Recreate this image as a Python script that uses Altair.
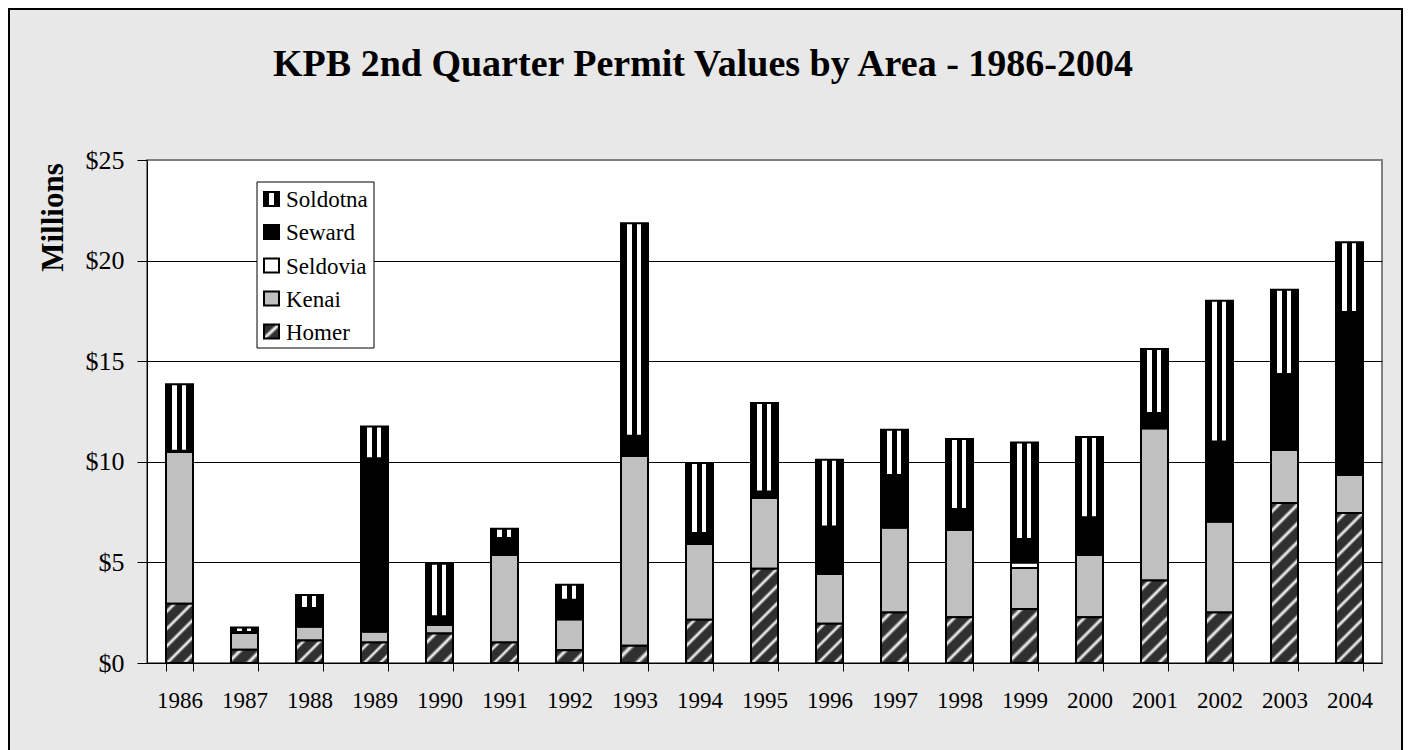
import math
import altair as alt
import pandas as pd

# ---------------- data (millions of dollars) ----------------
years = [str(y) for y in range(1986, 2005)]
areas = ["Homer", "Kenai", "Seldovia", "Seward", "Soldotna"]  # stacking order, bottom -> top
legend_order = ["Soldotna", "Seward", "Seldovia", "Kenai", "Homer"]

homer = [2.95, 0.66, 1.12, 1.02, 1.46, 1.02, 0.63, 0.86, 2.15, 4.68,
         1.95, 2.51, 2.28, 2.68, 2.28, 4.10, 2.51, 7.95, 7.45]
kenai = [7.55, 0.83, 0.70, 0.55, 0.44, 4.36, 1.55, 9.44, 3.76, 3.52,
         2.49, 4.23, 4.34, 2.04, 3.10, 7.57, 4.52, 2.65, 1.90]
seldovia = [0.00, 0.00, 0.00, 0.00, 0.00, 0.00, 0.00, 0.00, 0.00, 0.00,
            0.00, 0.00, 0.00, 0.28, 0.00, 0.00, 0.00, 0.00, 0.05]
seward = [0.05, 0.05, 0.91, 8.61, 0.42, 0.83, 0.96, 0.99, 0.55, 0.32,
          2.35, 2.61, 1.03, 1.16, 1.87, 0.75, 3.98, 3.77, 8.04]
soldotna = [3.30, 0.23, 0.65, 1.57, 2.61, 0.46, 0.75, 10.57, 3.48, 4.40,
            3.31, 2.24, 3.48, 4.80, 3.98, 3.19, 6.99, 4.18, 3.47]

y_ticks = [0, 5, 10, 15, 20, 25]
TITLE = "KPB 2nd Quarter Permit Values by Area - 1986-2004"
Y_TITLE = "Millions"

series = {"Homer": homer, "Kenai": kenai, "Seldovia": seldovia,
          "Seward": seward, "Soldotna": soldotna}
rows = []
for i, yr in enumerate(years):
    for k, a in enumerate(areas):
        rows.append({"year": yr, "area": a, "order": k, "value": series[a][i]})
df = pd.DataFrame(rows)

# ---------------- layout ----------------
FONT = "Liberation Serif"
W, H = 1235, 503
PAD = {"left": 139, "top": 152, "right": 21, "bottom": 87}
STEP = W / len(years)
BAND = 27
P_IN = 1 - BAND / STEP
YMAX = 25
PX_PER_UNIT = H / YMAX

DARK = "#303030"
GRAY = "#c0c0c0"

xscale = alt.Scale(domain=years, paddingInner=P_IN, paddingOuter=P_IN / 2)
yscale = alt.Scale(domain=[0, YMAX], nice=False, zero=True)

xaxis = alt.Axis(title=None, labelAngle=0, labelFont=FONT, labelFontSize=23,
                 labelColor="black", tickBand="extent", tickSize=8, tickColor="black",
                 domainColor="black", labelPadding=18, labelBaseline="top", grid=False)
yaxis = alt.Axis(title=Y_TITLE, values=y_ticks, labelExpr="'$' + datum.value",
                 labelFont=FONT, labelFontSize=26, labelColor="black", tickSize=10,
                 tickColor="black", labelPadding=13, grid=True,
                 gridColor=alt.condition(f"datum.value == {YMAX}",
                                         alt.value("#808080"), alt.value("black")),
                 gridWidth=1, domainColor="black", titleFont=FONT, titleFontSize=31,
                 titleFontWeight="bold", titleColor="black", titleAngle=270,
                 titleX=-85, titleY=57, titleAlign="center", titleBaseline="alphabetic")


def vstripes(stops_spec):
    stops = []
    for off, col in stops_spec:
        stops.append({"offset": off, "color": col})
    return {"gradient": "linear", "x1": 0, "y1": 0, "x2": 1, "y2": 0, "stops": stops}


SOLDOTNA_FILL = vstripes([(0, "black"), (0.23, "black"), (0.23, "white"), (0.39, "white"),
                          (0.39, "black"), (0.59, "black"), (0.59, "white"), (0.75, "white"),
                          (0.75, "black"), (1, "black")])


def diag_fill(w, h, period=13.0):
    """Dark fill with white '/' stripes at 45 degrees in pixel space."""
    k = (w + h) / (w * w + h * h)
    n = max(1, round((w + h) / math.sqrt(2) / period))
    stops = []
    for i in range(n):
        b = i / n
        stops += [{"offset": b, "color": DARK},
                  {"offset": b + 0.30 / n, "color": DARK},
                  {"offset": b + 0.50 / n, "color": "white"},
                  {"offset": b + 0.70 / n, "color": DARK}]
    stops.append({"offset": 1, "color": DARK})
    return {"gradient": "linear", "x1": 0, "y1": 0, "x2": k * w, "y2": k * h, "stops": stops}


base = alt.Chart(df).transform_stack(
    stack="value", groupby=["year"], as_=["v0", "v1"],
    sort=[alt.SortField("order", order="ascending")])


def seg(filt, fill):
    return base.transform_filter(filt).mark_bar(
        fill=fill, stroke="black", strokeWidth=2).encode(
        x=alt.X("year:N", scale=xscale, axis=xaxis),
        y=alt.Y("v0:Q", scale=yscale, axis=yaxis),
        y2="v1:Q")


layers = []
layers.append(seg(alt.datum.area == "Kenai", GRAY))
layers.append(seg(alt.datum.area == "Seldovia", "white"))
layers.append(seg(alt.datum.area == "Seward", "black"))
layers.append(seg(alt.datum.area == "Soldotna", SOLDOTNA_FILL))
for i, yr in enumerate(years):
    h = homer[i] * PX_PER_UNIT
    layers.append(seg((alt.datum.area == "Homer") & (alt.datum.year == yr),
                      diag_fill(BAND, h)))

one = pd.DataFrame({"k": [0]})

# outer border of the whole chart
layers.append(alt.Chart(one).mark_rect(filled=False, stroke="black", strokeWidth=2).encode(
    x=alt.value(-138), x2=alt.value(1255), y=alt.value(-151), y2=alt.value(620)))

# title
layers.append(alt.Chart(pd.DataFrame({"t": [TITLE]})).mark_text(
    font=FONT, fontSize=38, fontWeight="bold", color="black", align="center",
    baseline="alphabetic").encode(text="t:N", x=alt.value(556), y=alt.value(-84)))

# legend box
layers.append(alt.Chart(one).mark_rect(fill="white", stroke="black", strokeWidth=1).encode(
    x=alt.value(110), x2=alt.value(227), y=alt.value(22), y2=alt.value(188)))

legend_fills = {
    "Soldotna": vstripes([(0, "black"), (0.36, "black"), (0.36, "white"), (0.64, "white"),
                          (0.64, "black"), (1, "black")]),
    "Seward": "black",
    "Seldovia": "white",
    "Kenai": GRAY,
    "Homer": {"gradient": "linear", "x1": 0, "y1": 0, "x2": 1, "y2": 1,
              "stops": [{"offset": 0, "color": DARK}, {"offset": 0.36, "color": DARK},
                        {"offset": 0.5, "color": "white"}, {"offset": 0.64, "color": DARK},
                        {"offset": 1, "color": DARK}]},
}
row_y = [39, 72, 105.5, 138.5, 171.5]
for name, cy in zip(legend_order, row_y):
    layers.append(alt.Chart(one).mark_rect(fill=legend_fills[name], stroke="black",
                                           strokeWidth=2).encode(
        x=alt.value(117), x2=alt.value(132), y=alt.value(cy - 7), y2=alt.value(cy + 7)))
    layers.append(alt.Chart(pd.DataFrame({"t": [name]})).mark_text(
        font=FONT, fontSize=23, color="black", align="left", baseline="alphabetic").encode(
        text="t:N", x=alt.value(139), y=alt.value(cy + 8)))

chart = alt.layer(*layers).properties(
    width=W, height=H, padding=PAD,
    autosize=alt.AutoSizeParams(type="none"),
    background="#e8e8e8",
).configure_view(fill="white", stroke="#808080", strokeWidth=2)

chart.save("out.html", embed_options={"renderer": "svg", "actions": False})
